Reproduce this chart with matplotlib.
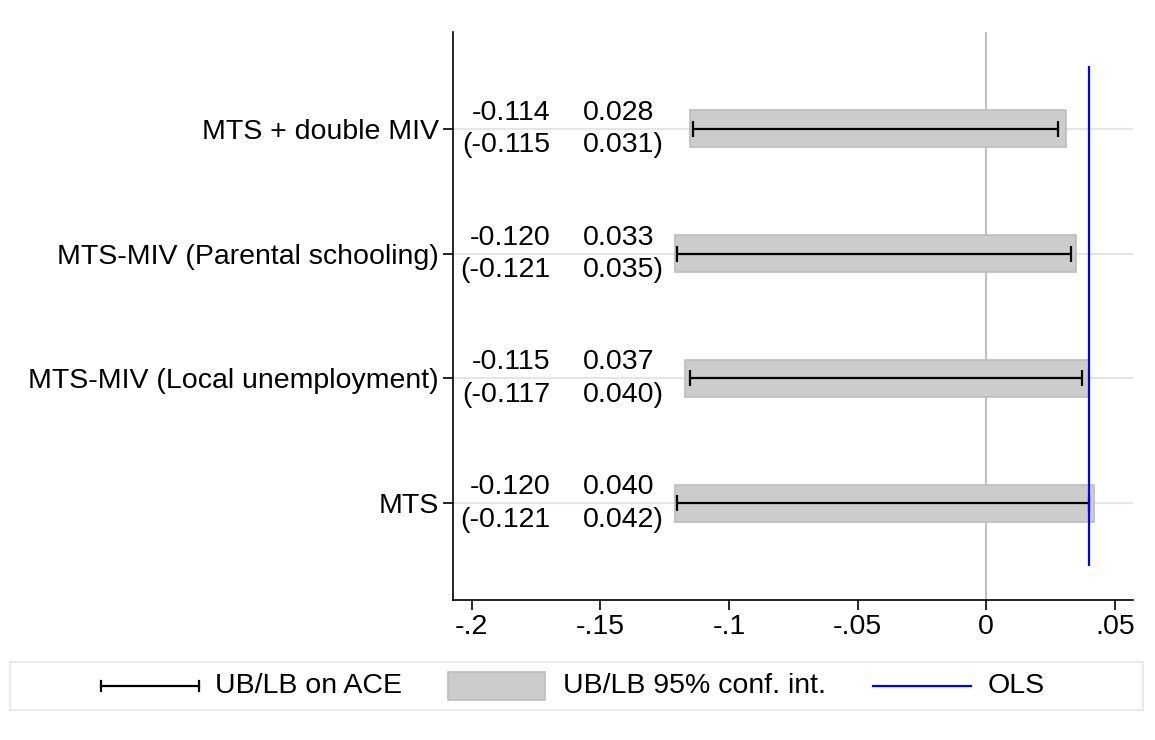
import matplotlib
matplotlib.use("Agg")
import matplotlib.pyplot as plt
from matplotlib.patches import Rectangle

plt.rcParams['font.family'] = ['Liberation Sans', 'DejaVu Sans']

categories = ["MTS", "MTS-MIV (Local unemployment)", "MTS-MIV (Parental schooling)", "MTS + double MIV"]
lb_ace = [-0.120, -0.115, -0.120, -0.114]
ub_ace = [0.040, 0.037, 0.033, 0.028]
lb_ci = [-0.121, -0.117, -0.121, -0.115]
ub_ci = [0.042, 0.040, 0.035, 0.031]
ols = 0.040
xticks = [-0.2, -0.15, -0.1, -0.05, 0, 0.05]
xticklabels = ["-.2", "-.15", "-.1", "-.05", "0", ".05"]

W, H, DPI = 1155, 740, 100
fig = plt.figure(figsize=(W / DPI, H / DPI), dpi=DPI)
ax = fig.add_axes([453 / W, 1 - 600 / H, (1133 - 453) / W, (600 - 32) / H])

ypos = list(range(1, len(categories) + 1))
FS = 20.5

# grid lines
for y in ypos:
    ax.axhline(y, color='#e6e6e6', lw=1.5, zorder=0)
ax.axvline(0, color='#c0c0c0', lw=1.5, zorder=0.5)

# CI bars
for y, lo, hi in zip(ypos, lb_ci, ub_ci):
    ax.barh(y, hi - lo, left=lo, height=0.30, color='#cccccc', edgecolor='#bdbdbd', lw=1.2, zorder=1)

# ACE error bars
for y, lo, hi in zip(ypos, lb_ace, ub_ace):
    ax.errorbar((lo + hi) / 2, y, xerr=[[(hi - lo) / 2], [(hi - lo) / 2]], fmt='none',
                ecolor='black', elinewidth=1.6, capsize=5.5, capthick=1.6, zorder=2)

# OLS line
ax.vlines(ols, 0.5, 4.5, color='#0000ff', lw=1.6, zorder=3)

# number annotations
col1_x = -0.1695
col2_x = -0.1567
for y, a, b, c, d in zip(ypos, lb_ace, ub_ace, lb_ci, ub_ci):
    ax.annotate(f"{a:.3f}", (col1_x, y), xytext=(0, 11.5), textcoords='offset points',
                ha='right', va='center', fontsize=FS)
    ax.annotate(f"{b:.3f}", (col2_x, y), xytext=(0, 11.5), textcoords='offset points',
                ha='left', va='center', fontsize=FS)
    ax.annotate(f"({c:.3f}", (col1_x, y), xytext=(0, -12), textcoords='offset points',
                ha='right', va='center', fontsize=FS)
    ax.annotate(f"{d:.3f})", (col2_x, y), xytext=(0, -12), textcoords='offset points',
                ha='left', va='center', fontsize=FS)

ax.set_xlim(-0.2072, 0.057)
ax.set_ylim(0.225, 4.775)
ax.set_yticks(ypos)
ax.set_yticklabels(categories, fontsize=FS)
ax.set_xticks(xticks)
ax.set_xticklabels(xticklabels, fontsize=FS)
ax.tick_params(axis='both', length=7, width=1.2, color='black', pad=3)
for s in ['top', 'right']:
    ax.spines[s].set_visible(False)
for s in ['left', 'bottom']:
    ax.spines[s].set_linewidth(1.2)

# legend (manual, pixel coordinates)
lax = fig.add_axes([0, 0, 1, 1], facecolor='none')
lax.set_xlim(0, W)
lax.set_ylim(H, 0)
lax.axis('off')
lax.add_patch(Rectangle((10, 662), 1133, 48, fill=False, edgecolor='#e6e6e6', lw=1.2))
ly = 686
lax.plot([101, 199], [ly, ly], color='black', lw=1.6)
lax.plot([101, 101], [ly - 5, ly + 5], color='black', lw=1.6)
lax.plot([199, 199], [ly - 5, ly + 5], color='black', lw=1.6)
lax.text(215, ly, "UB/LB on ACE", fontsize=FS, va='center', ha='left')
lax.add_patch(Rectangle((448, 672), 97, 28, facecolor='#cccccc', edgecolor='#bdbdbd', lw=1.2))
lax.text(563, ly, "UB/LB 95% conf. int.", fontsize=FS, va='center', ha='left')
lax.plot([873, 971], [ly, ly], color='#0000ff', lw=1.6)
lax.text(988, ly, "OLS", fontsize=FS, va='center', ha='left')

fig.savefig("out.png", dpi=DPI, facecolor='white')
